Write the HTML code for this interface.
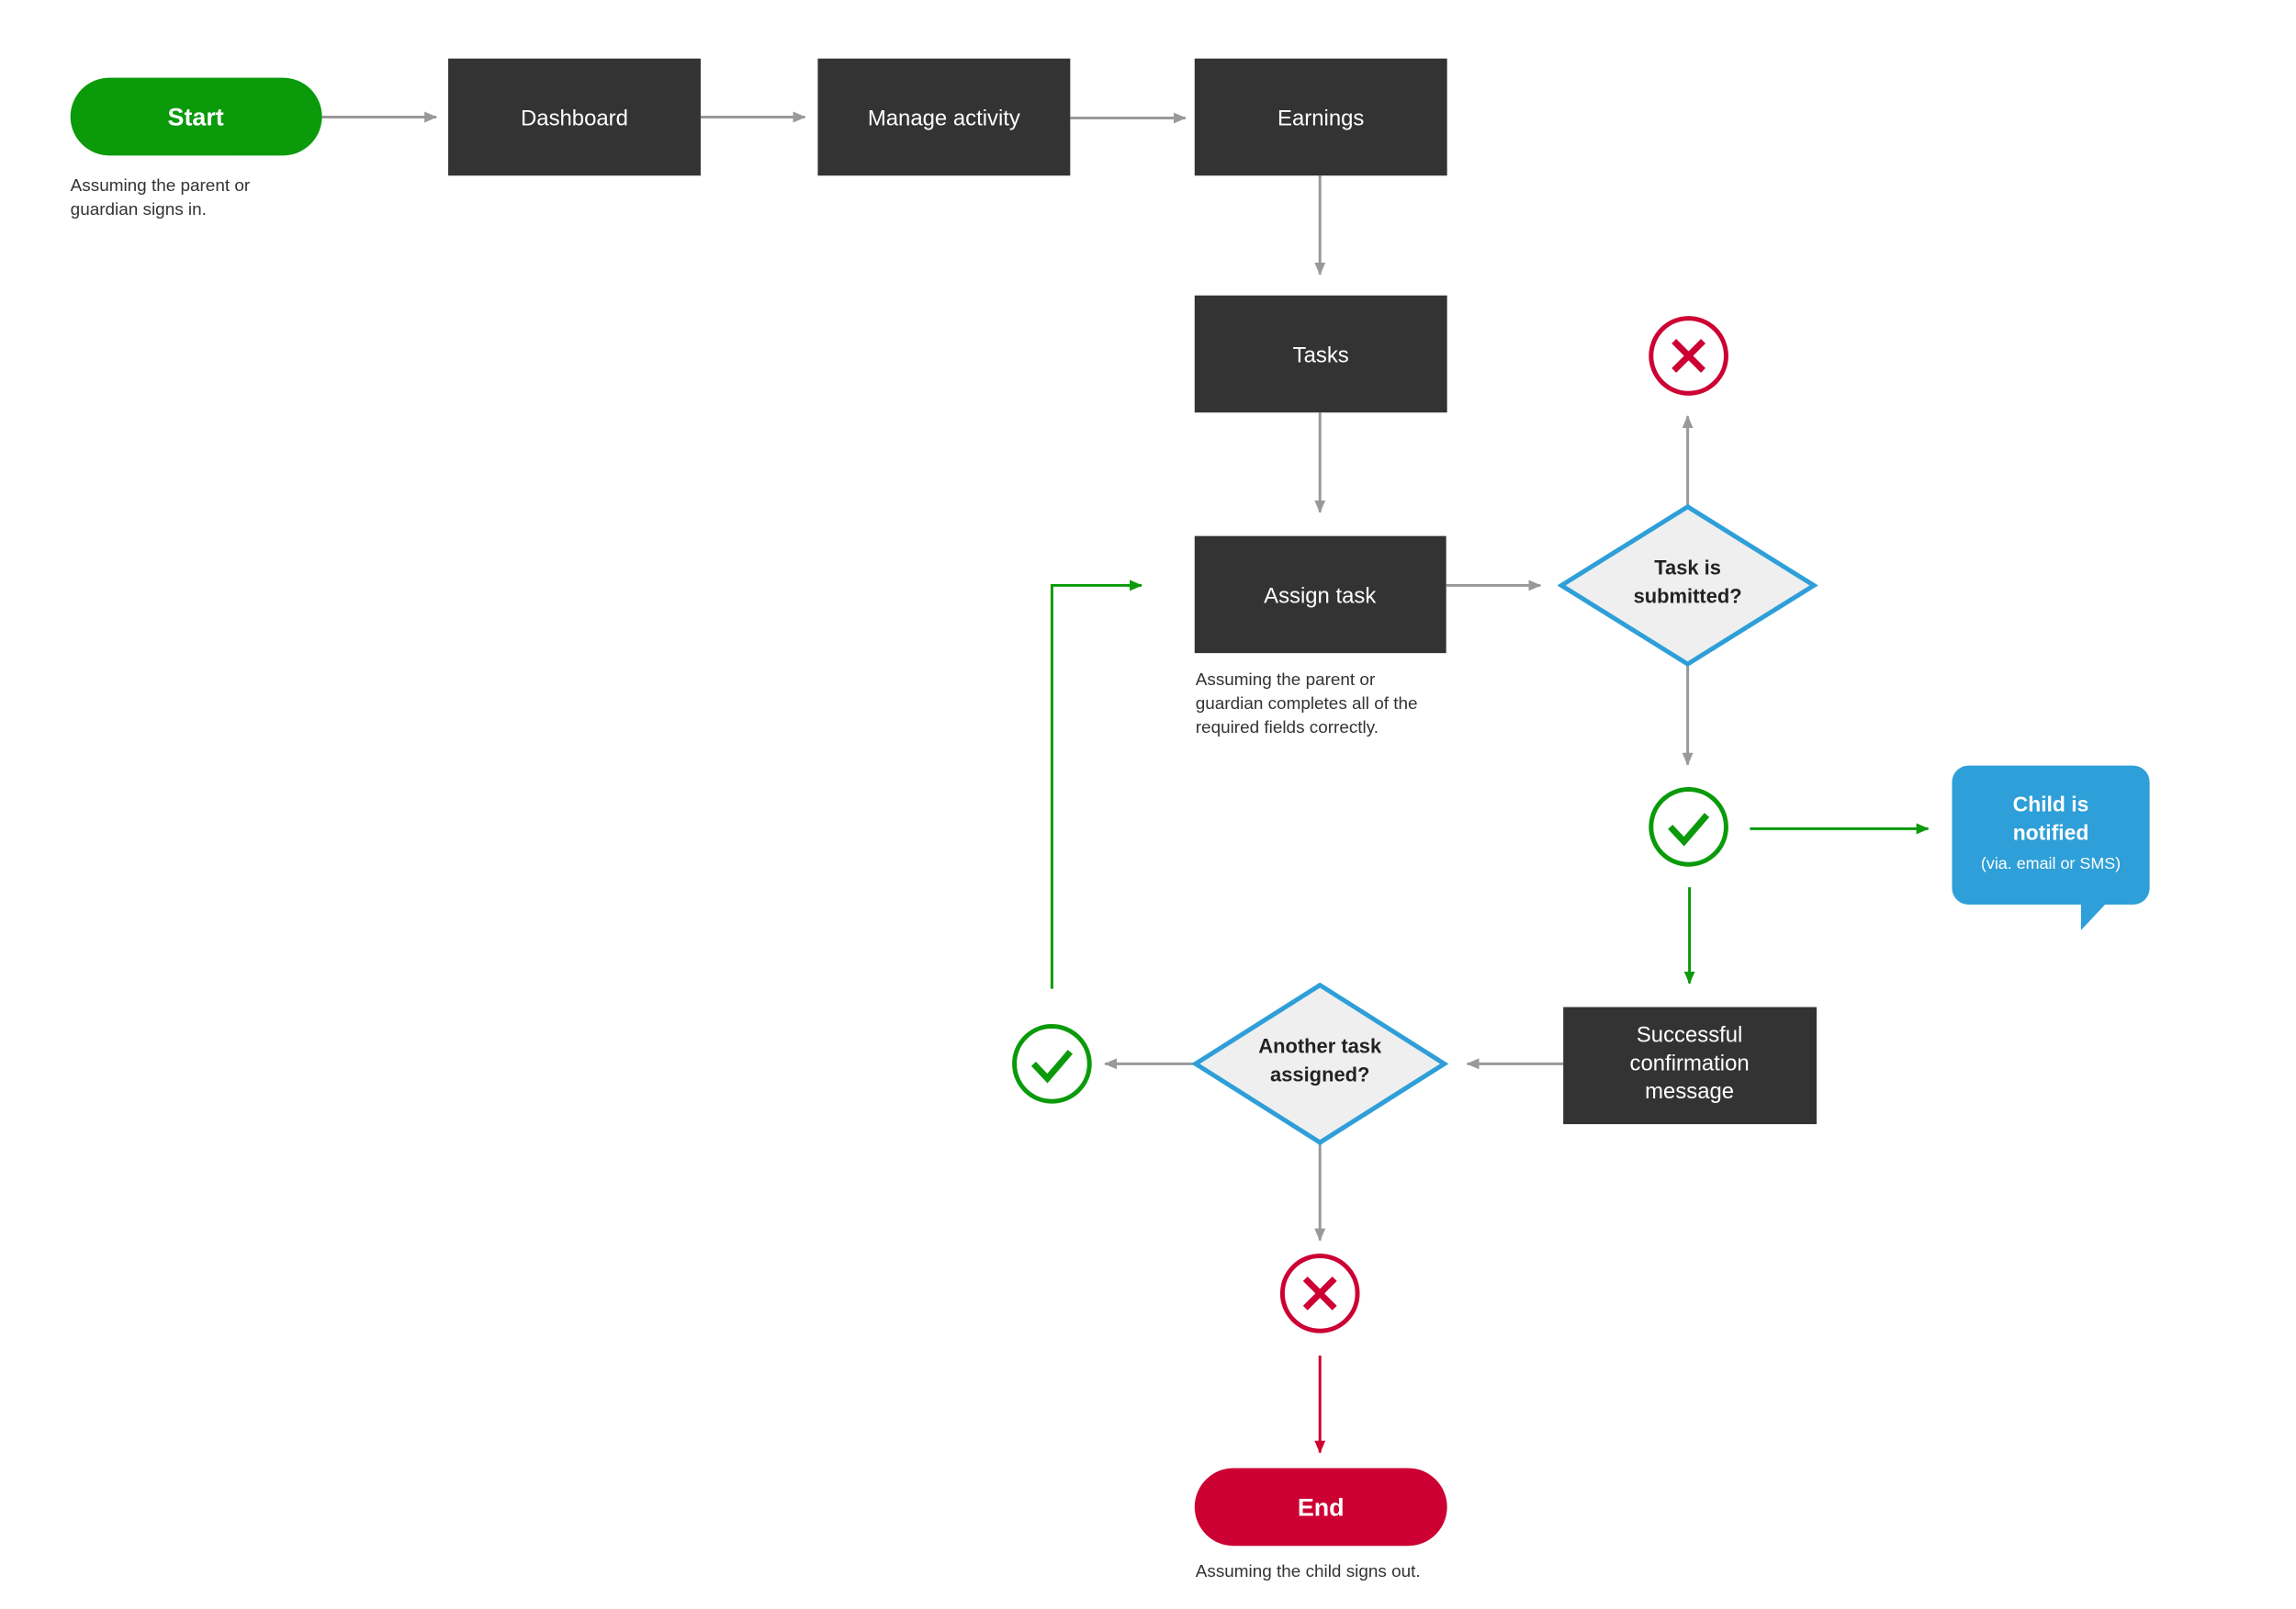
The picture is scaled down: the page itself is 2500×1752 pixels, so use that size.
<!DOCTYPE html>
<html><head><meta charset="utf-8"><style>
html,body{margin:0;padding:0;background:#fff;}
svg{display:block;}
text{font-family:"Liberation Sans",sans-serif;}
</style></head><body>
<svg width="2500" height="1752" viewBox="0 0 2500 1752" xmlns="http://www.w3.org/2000/svg">
<defs>
<marker id="gg" markerWidth="14" markerHeight="12" refX="13" refY="6" orient="auto" markerUnits="userSpaceOnUse"><path d="M0,0 L14,6 L0,12 Z" fill="#999"/></marker>
<marker id="gr" markerWidth="14" markerHeight="12" refX="13" refY="6" orient="auto" markerUnits="userSpaceOnUse"><path d="M0,0 L14,6 L0,12 Z" fill="#0a9a0a"/></marker>
<marker id="rd" markerWidth="14" markerHeight="12" refX="13" refY="6" orient="auto" markerUnits="userSpaceOnUse"><path d="M0,0 L14,6 L0,12 Z" fill="#cc0033"/></marker>
</defs>
<g transform="scale(0.996)">
<!-- gray connectors -->
<g stroke="#999" stroke-width="3" fill="none" marker-end="url(#gg)">
<line x1="352" y1="128" x2="477" y2="128"/>
<line x1="766" y1="128" x2="880" y2="128"/>
<line x1="1170" y1="129" x2="1296" y2="129"/>
<line x1="1443" y1="192" x2="1443" y2="300"/>
<line x1="1443" y1="451" x2="1443" y2="560"/>
<line x1="1581" y1="640" x2="1684" y2="640"/>
<line x1="1845" y1="554" x2="1845" y2="455"/>
<line x1="1845" y1="726" x2="1845" y2="836"/>
<line x1="1709" y1="1163" x2="1604" y2="1163"/>
<line x1="1307" y1="1163" x2="1208" y2="1163"/>
<line x1="1443" y1="1250" x2="1443" y2="1356"/>
</g>
<g stroke="#0a9a0a" stroke-width="3" fill="none" marker-end="url(#gr)">
<line x1="1913" y1="906" x2="2108" y2="906"/>
<line x1="1847" y1="970" x2="1847" y2="1075"/>
<polyline points="1150,1081 1150,640 1248,640"/>
</g>
<line x1="1443" y1="1482" x2="1443" y2="1588" stroke="#cc0033" stroke-width="3" marker-end="url(#rd)"/>

<rect x="77" y="85" width="275" height="85" rx="42.5" fill="#0a9a0a"/>
<text x="214" y="137" font-size="27" font-weight="bold" fill="#fff" text-anchor="middle">Start</text>
<text x="77" y="209" font-size="19" fill="#333">Assuming the parent or</text>
<text x="77" y="235" font-size="19" fill="#333">guardian signs in.</text>

<g fill="#333">
<rect x="490" y="64" width="276" height="128"/>
<rect x="894" y="64" width="276" height="128"/>
<rect x="1306" y="64" width="276" height="128"/>
<rect x="1306" y="323" width="276" height="128"/>
<rect x="1306" y="586" width="275" height="128"/>
<rect x="1709" y="1101" width="277" height="128"/>
</g>
<g fill="#fff" font-size="24" text-anchor="middle">
<text x="628" y="137">Dashboard</text>
<text x="1032" y="137">Manage activity</text>
<text x="1444" y="137">Earnings</text>
<text x="1444" y="396">Tasks</text>
<text x="1443" y="659">Assign task</text>
<text x="1847" y="1139">Successful</text>
<text x="1847" y="1170">confirmation</text>
<text x="1847" y="1201">message</text>
</g>
<g fill="#333" font-size="19">
<text x="1307" y="749">Assuming the parent or</text>
<text x="1307" y="775">guardian completes all of the</text>
<text x="1307" y="801">required fields correctly.</text>
<text x="1307" y="1724">Assuming the child signs out.</text>
</g>

<polygon points="1845,554 1983,640 1845,726 1707,640" fill="#efefef" stroke="#2e9fd8" stroke-width="5"/>
<text x="1845" y="628" font-size="22" font-weight="bold" fill="#222" text-anchor="middle">Task is</text>
<text x="1845" y="659" font-size="22" font-weight="bold" fill="#222" text-anchor="middle">submitted?</text>
<polygon points="1443,1077 1579,1163 1443,1249 1307,1163" fill="#efefef" stroke="#2e9fd8" stroke-width="5"/>
<text x="1443" y="1151" font-size="22" font-weight="bold" fill="#222" text-anchor="middle">Another task</text>
<text x="1443" y="1182" font-size="22" font-weight="bold" fill="#222" text-anchor="middle">assigned?</text>

<g stroke="#cc0033" fill="none">
<circle cx="1846" cy="389" r="41" stroke-width="5"/>
<path d="M1830,373 L1862,405 M1862,373 L1830,405" stroke-width="7"/>
<circle cx="1443" cy="1414" r="41" stroke-width="5"/>
<path d="M1427,1398 L1459,1430 M1459,1398 L1427,1430" stroke-width="7"/>
</g>
<g stroke="#0a9a0a" fill="none">
<circle cx="1846" cy="904" r="41" stroke-width="5"/>
<path d="M1826,904 L1841,920 L1866,891" stroke-width="7"/>
<circle cx="1150" cy="1163" r="41" stroke-width="5"/>
<path d="M1130,1163 L1145,1179 L1170,1150" stroke-width="7"/>
</g>

<!-- End -->
<rect x="1306" y="1605" width="276" height="85" rx="42.5" fill="#cc0033"/>
<text x="1444" y="1657" font-size="27" font-weight="bold" fill="#fff" text-anchor="middle">End</text>

<rect x="2134" y="837" width="216" height="152" rx="18" fill="#2e9fd8"/>
<polygon points="2275,985 2305,985 2275,1017" fill="#2e9fd8"/>
<text x="2242" y="887" font-size="23" font-weight="bold" fill="#fff" text-anchor="middle">Child is</text>
<text x="2242" y="918" font-size="23" font-weight="bold" fill="#fff" text-anchor="middle">notified</text>
<text x="2242" y="950" font-size="18" fill="#fff" text-anchor="middle">(via. email or SMS)</text>
</g>
</svg>
</body></html>
